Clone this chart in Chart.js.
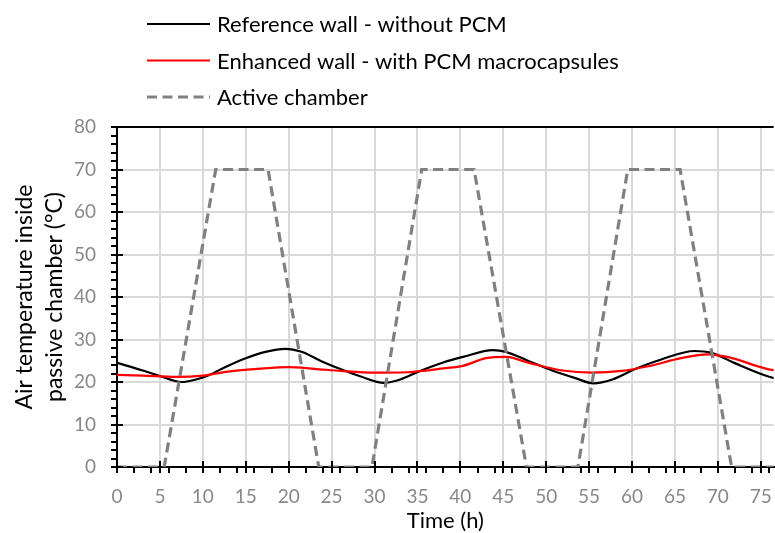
<!DOCTYPE html>
<html>
<head>
<meta charset="utf-8">
<script src="https://cdn.jsdelivr.net/npm/chart.js@4.4.1/dist/chart.umd.min.js"></script>
<style>
  body { margin: 0; background: #fff; overflow: hidden; }
  #wrap { width: 790px; height: 533px; position: relative; }
</style>
</head>
<body>
<div id="wrap"><canvas id="grafico"></canvas></div>
<script>
// datos
const seriesNames = ["Reference wall - without PCM", "Enhanced wall - with PCM macrocapsules", "Active chamber"];

const refHours = [0, 3, 5, 7.5, 9.2, 10.7, 12.7, 15, 17.3, 19.6, 21.5, 23.8, 26.1, 28.4, 31.1, 33, 35.3, 38, 40.3, 43.8, 45.3, 48, 50.7, 53.4, 55.5, 57.7, 60.3, 63.4, 67.3, 69.2, 71.9, 75.7, 78];
const refTemp = [24.5, 22.7, 21.4, 20.0, 20.6, 21.6, 23.6, 25.6, 27.1, 27.8, 27.1, 24.9, 23.0, 21.3, 19.8, 20.6, 22.6, 24.6, 25.9, 27.5, 27.1, 24.9, 22.7, 20.9, 19.7, 20.6, 23.0, 25.3, 27.3, 26.9, 24.5, 21.4, 20.2];

const pcmHours = [0, 3, 6.9, 10, 12.7, 16.5, 20, 23, 26.1, 30, 33.8, 36.1, 38, 40.3, 43, 45.3, 48, 51.9, 55.3, 58.8, 61.9, 65.7, 68.8, 71.1, 75.7, 78];
const pcmTemp = [21.7, 21.5, 21.2, 21.5, 22.4, 23.1, 23.5, 23.1, 22.6, 22.2, 22.3, 22.7, 23.2, 23.8, 25.6, 25.9, 24.5, 22.7, 22.2, 22.6, 23.7, 25.6, 26.5, 25.9, 23.1, 22.3];

const actHours = [0, 5.5, 11.5, 17.6, 23.5, 29.7, 35.5, 41.6, 47.7, 53.7, 59.5, 65.6, 71.6, 80];
const actTemp = [0, 0, 70, 70, 0, 0, 70, 70, 0, 0, 70, 70, 0, 0];

const xTicks = [0, 5, 10, 15, 20, 25, 30, 35, 40, 45, 50, 55, 60, 65, 70, 75];
const yTicks = [0, 10, 20, 30, 40, 50, 60, 70, 80];

function puntos(xs, ys) {
    return xs.map((x, i) => ({x: x, y: ys[i]}));
}

const fuente = "Lato, 'Open Sans', sans-serif";

// marcas de los ejes (menores cada 2, mayores cruzan el eje)
const marcas = {
    id: "marcas",
    afterDraw(chart) {
        const ctx = chart.ctx;
        const xs = chart.scales.x;
        const ys = chart.scales.y;
        const area = chart.chartArea;
        ctx.save();
        ctx.strokeStyle = "#000";
        ctx.lineWidth = 2;
        ctx.beginPath();
        for (let v = 0; v <= 80; v += 2) {
            const py = Math.round(ys.getPixelForValue(v));
            ctx.moveTo(area.left - 6, py);
            ctx.lineTo(v % 10 === 0 ? area.left + 6 : area.left, py);
        }
        for (let v = 0; v <= 76; v++) {
            if (v % 2 !== 0 && v % 5 !== 0) continue;
            const px = Math.round(xs.getPixelForValue(v));
            ctx.moveTo(px, area.bottom + 6);
            ctx.lineTo(px, v % 5 === 0 ? area.bottom - 6 : area.bottom);
        }
        ctx.stroke();
        ctx.restore();
    }
};

// leyenda vertical arriba
const leyenda = {
    id: "leyenda",
    afterDraw(chart) {
        const ctx = chart.ctx;
        ctx.save();
        chart.data.datasets.forEach((ds, i) => {
            const y = 24 + i * 36.5;
            ctx.beginPath();
            ctx.strokeStyle = ds.borderColor;
            ctx.lineWidth = ds.borderWidth;
            ctx.setLineDash(ds.borderDash || []);
            ctx.moveTo(147, y);
            ctx.lineTo(210, y);
            ctx.stroke();
            ctx.setLineDash([]);
            ctx.fillStyle = "#000";
            ctx.font = "22px " + fuente;
            ctx.textBaseline = "middle";
            ctx.textAlign = "left";
            ctx.fillText(ds.label, 217, y + 1);
        });
        ctx.restore();
    }
};

const canva = document.getElementById("grafico").getContext("2d");
let grafico = new Chart(canva, {
    type: "line",
    data: {
        datasets: [{
            label: seriesNames[0],
            data: puntos(refHours, refTemp),
            borderColor: "#000000",
            borderWidth: 2.2,
            pointRadius: 0,
            cubicInterpolationMode: "monotone",
            order: 2
        }, {
            label: seriesNames[1],
            data: puntos(pcmHours, pcmTemp),
            borderColor: "#ff0000",
            borderWidth: 2.2,
            pointRadius: 0,
            cubicInterpolationMode: "monotone",
            order: 1
        }, {
            label: seriesNames[2],
            data: puntos(actHours, actTemp),
            borderColor: "#808080",
            borderWidth: 3.2,
            borderDash: [10, 5.5],
            pointRadius: 0,
            tension: 0,
            order: 0
        }]
    },
    options: {
        responsive: true,
        maintainAspectRatio: false,
        animation: false,
        layout: { padding: { top: 127, left: 9, right: 10, bottom: 0 } },
        plugins: {
            legend: { display: false },
            tooltip: { enabled: false }
        },
        scales: {
            x: {
                type: "linear",
                min: 0,
                max: 76.5,
                afterFit(scale) { scale.height = 66; },
                afterBuildTicks(scale) { scale.ticks = xTicks.map(v => ({value: v})); },
                ticks: {
                    stepSize: 5,
                    includeBounds: false,
                    padding: 18,
                    color: "#888888",
                    font: { family: fuente, size: 19 }
                },
                grid: { color: "#d9d9d9", lineWidth: 2, drawTicks: false },
                border: { color: "#000", width: 2 },
                title: {
                    display: true,
                    text: "Time (h)",
                    color: "#000",
                    padding: 0,
                    font: { family: fuente, size: 22, lineHeight: 1.1 }
                }
            },
            y: {
                min: 0,
                max: 80,
                afterFit(scale) { scale.width = 108; },
                afterBuildTicks(scale) { scale.ticks = yTicks.map(v => ({value: v})); },
                ticks: {
                    padding: 21,
                    color: "#888888",
                    font: { family: fuente, size: 19 }
                },
                grid: {
                    color: (c) => c.tick && c.tick.value === 80 ? "#000" : "#d9d9d9",
                    lineWidth: 2,
                    drawTicks: false
                },
                border: { color: "#000", width: 2 },
                title: {
                    display: true,
                    text: ["Air temperature inside", "passive chamber (°C)"],
                    color: "#000",
                    padding: 0,
                    font: { family: fuente, size: 23, lineHeight: 1.32 }
                }
            }
        }
    },
    plugins: [marcas, leyenda]
});
</script>
</body>
</html>
